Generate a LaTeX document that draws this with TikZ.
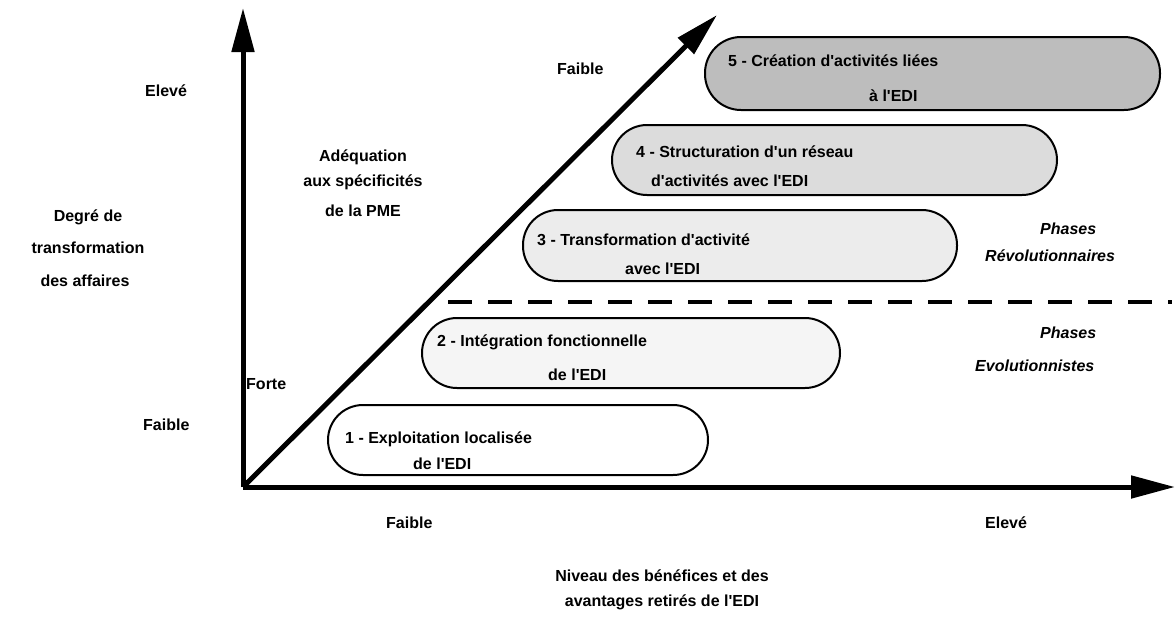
\documentclass[tikz,border=0pt]{standalone}
\usepackage{fontspec}
\setmainfont{Liberation Sans}[Ligatures=TeXOff]
\usetikzlibrary{arrows.meta}
\tikzset{
  axis/.style={line width=5pt,-{Triangle[length=44pt,width=22pt]}},
  phasebox/.style={draw,line width=2pt,rounded corners=35pt,minimum height=70pt,inner sep=0pt},
  lbl/.style={anchor=base west,inner sep=0pt,font=\fontsize{16}{19}\selectfont\bfseries},
  clbl/.style={anchor=base,inner sep=0pt,font=\fontsize{16}{19}\selectfont\bfseries},
  ilbl/.style={anchor=base west,inner sep=0pt,font=\fontsize{16}{19}\selectfont\bfseries\itshape},
  sep/.style={line width=4pt,dash pattern=on 24pt off 16pt}
}
\definecolor{g2}{HTML}{F5F5F5}
\definecolor{g3}{HTML}{ECECEC}
\definecolor{g4}{HTML}{DCDCDC}
\definecolor{g5}{HTML}{BDBDBD}
\begin{document}
\begin{tikzpicture}[x=1pt,y=-1pt]
\useasboundingbox (0,0) rectangle (1175,619);
\coordinate (O) at (243,487);
\coordinate (Ytip) at (243,8);
\coordinate (Xtip) at (1175,487);
\coordinate (Dtip) at (717,15);
\coordinate (Ds) at (448,302);
\coordinate (De) at (1172,302);

% boxes
\node[phasebox,fill=white,minimum width=380pt] (b1) at (518,440) {};
\node[phasebox,fill=g2,minimum width=418pt] (b2) at (631,353) {};
\node[phasebox,fill=g3,minimum width=434pt,minimum height=71pt] (b3) at (740,245.5) {};
\node[phasebox,fill=g4,minimum width=445pt] (b4) at (834.5,160) {};
\node[phasebox,fill=g5,minimum width=455pt,minimum height=73pt,rounded corners=36pt] (b5) at (932.5,73.5) {};

% axes
\draw[axis] (O) -- (Ytip);
\draw[axis] (O) -- (Xtip);
\draw[axis] (O) -- (Dtip);
\draw[sep] (Ds) -- (De);

% box texts
\node[lbl] (t1a) at (345,443) {1 - Exploitation localisée};
\node[lbl] (t1b) at (413,469) {de l'EDI};
\node[lbl] (t2a) at (437,346) {2 - Intégration fonctionnelle};
\node[lbl] (t2b) at (548,380) {de l'EDI};
\node[lbl] (t3a) at (537,245) {3 - Transformation d'activité};
\node[lbl] (t3b) at (625,274) {avec l'EDI};
\node[lbl] (t4a) at (636,157) {4 - Structuration d'un réseau};
\node[lbl] (t4b) at (651,186) {d'activités avec l'EDI};
\node[lbl] (t5a) at (728,66) {5 - Création d'activités liées};
\node[lbl] (t5b) at (869,101) {à l'EDI};

% axis labels
\node[lbl] (yhi) at (145,96) {Elevé};
\node[lbl] (ylo) at (143,430) {Faible};
\node[clbl] (y1) at (88,221) {Degré de};
\node[clbl] (y2) at (88,253) {transformation};
\node[clbl] (y3) at (85,286) {des affaires};
\node[lbl] (dlo) at (246,389) {Forte};
\node[lbl] (dhi) at (557,74) {Faible};
\node[clbl] (d1) at (363,161) {Adéquation};
\node[clbl] (d2) at (363,186) {aux spécificités};
\node[clbl] (d3) at (363,216) {de la PME};
\node[lbl] (xlo) at (386,528) {Faible};
\node[lbl] (xhi) at (985,528) {Elevé};
\node[clbl] (x1) at (662,581) {Niveau des bénéfices et des};
\node[clbl] (x2) at (662,606) {avantages retirés de l'EDI};

% phases
\node[ilbl] (pr1) at (1040,234) {Phases};
\node[ilbl] (pr2) at (985,261) {Révolutionnaires};
\node[ilbl] (pe1) at (1040,338) {Phases};
\node[ilbl] (pe2) at (975,371) {Evolutionnistes};
\end{tikzpicture}
\end{document}
